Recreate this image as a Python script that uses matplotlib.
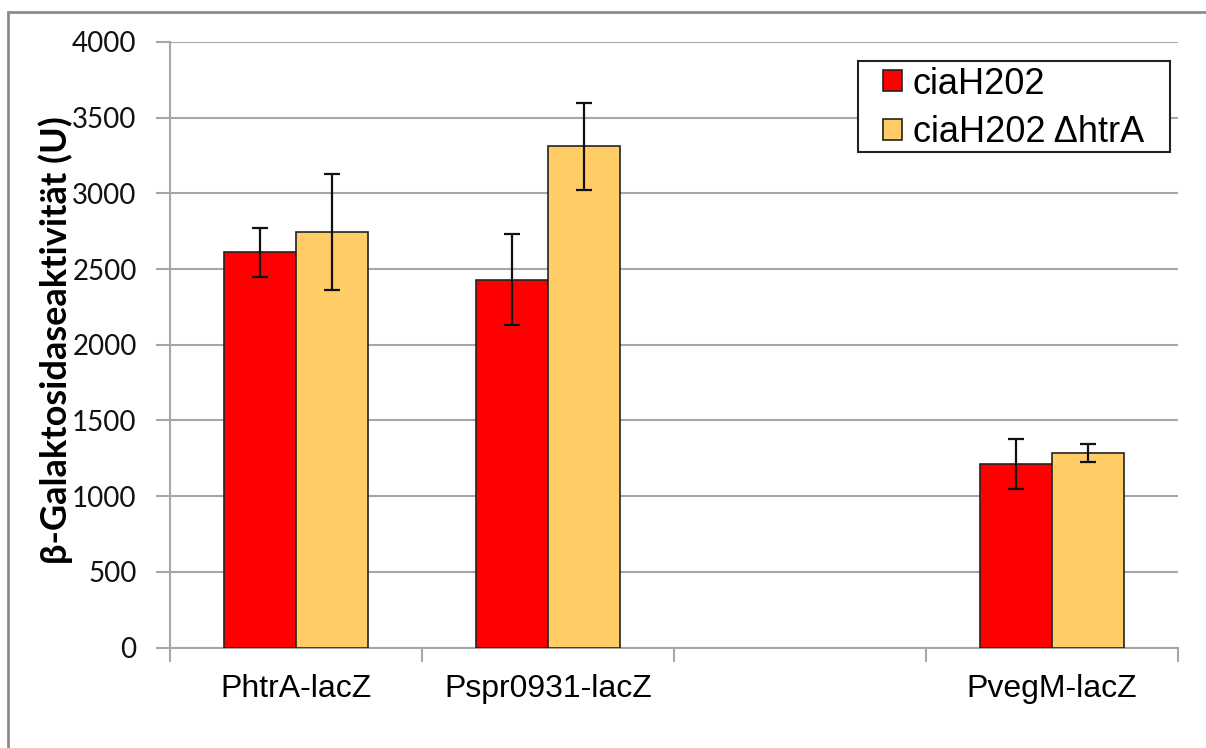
import numpy as np
import matplotlib.pyplot as plt
from matplotlib.patches import Rectangle

# promoter fusions (fourth slot is left empty)
kategori = ["PhtrA-lacZ", "Pspr0931-lacZ", "", "PvegM-lacZ"]
nilai_h202 = [2610, 2430, np.nan, 1210]
err_h202 = [160, 300, np.nan, 165]
nilai_htra = [2745, 3310, np.nan, 1285]
err_htra = [385, 285, np.nan, 60]
label_seri = ["ciaH202", "ciaH202 \u0394htrA"]
yticks = [0, 500, 1000, 1500, 2000, 2500, 3000, 3500, 4000]

W, H = 1206, 748
fig = plt.figure(figsize=(W / 100, H / 100), dpi=100)
ax = fig.add_axes([170 / W, (H - 647.5) / H, (1178 - 170) / W, (647.5 - 42) / H])

# outer chart frame (only top and left edges are inside the image)
fig.add_artist(Rectangle((8 / W, -0.5), 2, 0.5 + (H - 12) / H, transform=fig.transFigure,
                         fill=False, edgecolor="#8c8c8c", linewidth=2))

x = np.arange(len(kategori))
lebar = 0.286
ax.bar(x - lebar / 2, nilai_h202, lebar, color="#FF0000", edgecolor="#222222",
       linewidth=1.2, label=label_seri[0], zorder=3)
ax.bar(x + lebar / 2, nilai_htra, lebar, color="#FFCC66", edgecolor="#222222",
       linewidth=1.2, label=label_seri[1], zorder=3)
ax.errorbar(x - lebar / 2, nilai_h202, yerr=err_h202, fmt="none", ecolor="#111111",
            elinewidth=1.6, capsize=5.5, capthick=1.6, zorder=4)
ax.errorbar(x + lebar / 2, nilai_htra, yerr=err_htra, fmt="none", ecolor="#111111",
            elinewidth=1.6, capsize=5.5, capthick=1.6, zorder=4)

ax.set_xlim(-0.5, len(kategori) - 0.5)
ax.set_ylim(0, 4000)
ax.set_yticks(yticks)
ax.set_yticklabels([str(v) for v in yticks], family="Lato", fontsize=20, color="#111111")
ax.yaxis.grid(True, color="#a6a6a6", linewidth=1.5, zorder=0)
ax.set_axisbelow(True)

# category labels centred, tick marks on the boundaries
ax.set_xticks(x)
ax.set_xticklabels(kategori, family="Liberation Sans", fontsize=23)
ax.set_xticks(np.arange(-0.5, len(kategori)), minor=True)
ax.tick_params(axis="x", which="major", length=0, pad=19)
ax.tick_params(axis="x", which="minor", length=10, width=1.5, color="#a6a6a6", direction="out")
ax.tick_params(axis="y", length=10, width=1.5, color="#a6a6a6", pad=14)

for s in ["top", "right"]:
    ax.spines[s].set_visible(False)
for s in ["left", "bottom"]:
    ax.spines[s].set_color("#a6a6a6")
    ax.spines[s].set_linewidth(1.5)

fig.text(56 / W, 1 - 340 / H, "\u03b2-Galaktosidaseaktivit\u00e4t (U)", rotation=90,
         ha="center", va="center", family="Lato", fontweight="bold", fontsize=26)

# legend box drawn separately so the padding can be wider than tall
fig.add_artist(Rectangle((858 / W, 1 - 152 / H), (1170 - 858) / W, (152 - 61) / H,
                         transform=fig.transFigure, facecolor="white",
                         edgecolor="#222222", linewidth=1.5, zorder=4))
h, l = ax.get_legend_handles_labels()
fig.legend(h, l, loc="center left", bbox_to_anchor=(883 / W, 1 - 108.5 / H),
           prop={"family": "Liberation Sans", "size": 26}, frameon=False,
           handlelength=0.53, handleheight=0.53, handletextpad=0.3,
           labelspacing=0.38, borderpad=0, borderaxespad=0)

plt.savefig("out.png", dpi=100)
